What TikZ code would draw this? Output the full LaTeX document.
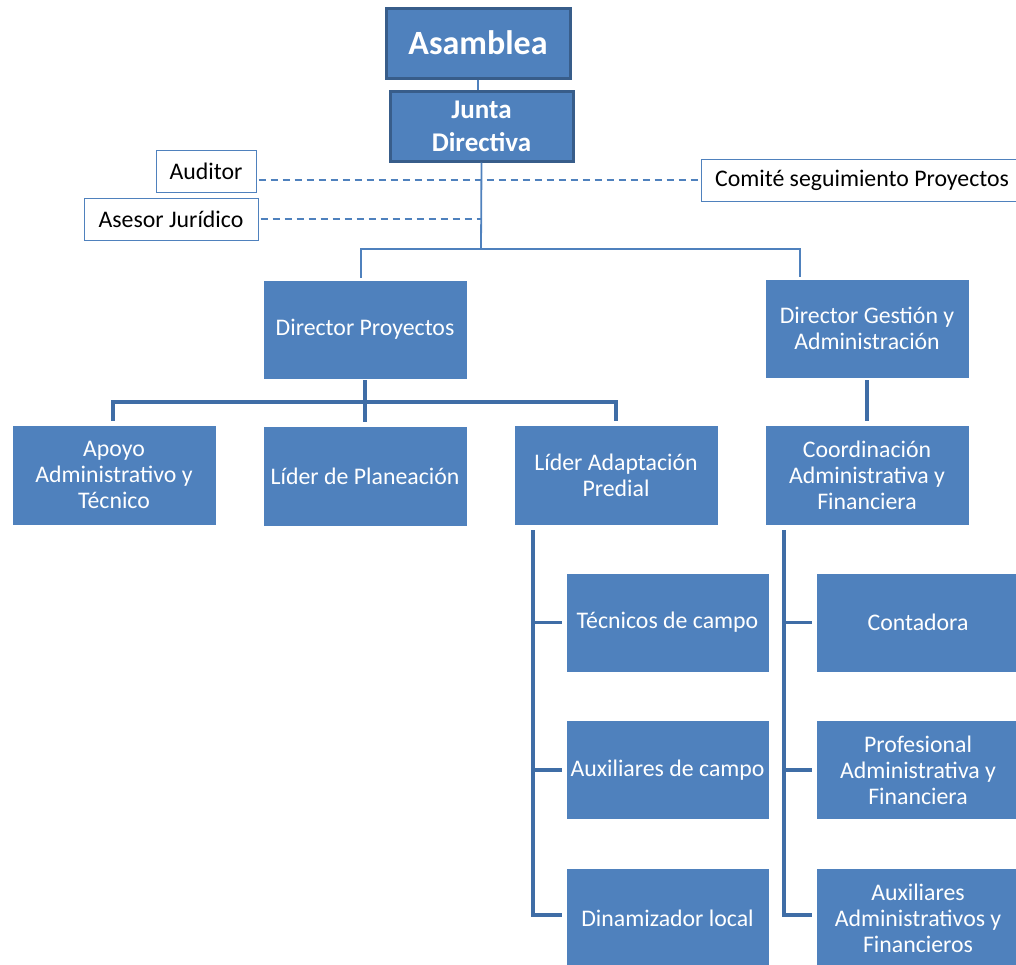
\documentclass[tikz,border=0pt]{standalone}
\usepackage{fontspec}
\setmainfont{Carlito}
\definecolor{boxblue}{HTML}{4F81BD}
\definecolor{edgeblue}{HTML}{385D8A}
\definecolor{lineblue}{HTML}{4F81BD}
\definecolor{darkline}{HTML}{3F6DA6}
\begin{document}
\begin{tikzpicture}[x=1pt,y=-1pt,
  box/.style={fill=boxblue,draw=white,line width=0.8pt,text=white,inner sep=0pt,align=center,
    minimum width=204pt,minimum height=100pt,font=\fontsize{23.8}{26}\selectfont},
  topbox/.style={fill=boxblue,draw=edgeblue,line width=3pt,text=white,inner sep=0pt,align=center,
    font=\bfseries},
  sidebox/.style={fill=white,draw=lineblue,line width=1pt,text=black,inner sep=0pt,align=center,
    minimum height=42pt,font=\fontsize{23.8}{26}\selectfont},
  lvlone/.style={draw=lineblue,line width=1.8pt},
  lvltwo/.style={draw=darkline,line width=3.5pt},
  dashlink/.style={draw=lineblue,line width=1.5pt,dash pattern=on 7pt off 5pt}]
\useasboundingbox (0,0) rectangle (1016,964);
\clip (0,0) rectangle (1016,964);

% top
\node[topbox,minimum width=184pt,minimum height=70pt,font=\bfseries\fontsize{34}{38}\selectfont] (asamblea) at (478,43) {Asamblea};
\node[topbox,minimum width=183pt,minimum height=70pt,font=\bfseries\fontsize{27}{33}\selectfont] (junta) at (481.5,126) {Junta\\Directiva};

% side boxes
\node[sidebox,minimum width=100pt] (auditor) at (206,171) {Auditor};
\node[sidebox,minimum width=174pt] (asesor) at (171,219) {Asesor Jurídico};
\node[sidebox,minimum width=318pt] (comite) at (860,180) {\hspace*{2pt}Comité seguimiento Proyectos\hspace*{-2pt}};

% level 1
\node[box,minimum height=99pt] (dirproy) at (365,329.5) {Director Proyectos};
\node[box,minimum height=99pt] (dirgest) at (867,328.5) {Director Gestión y\\Administración};

% level 2
\node[box] (apoyo) at (114,475) {Apoyo\\Administrativo y\\Técnico};
\node[box] (planea) at (365,476) {Líder de Planeación};
\node[box] (adapt) at (616,475) {Líder Adaptación\\Predial};
\node[box] (coord) at (867,475) {Coordinación\\Administrativa y\\Financiera};

% level 3
\node[box,minimum width=203pt,minimum height=99pt] (tecnicos) at (667.5,622.5) {\raisebox{-2pt}{Técnicos de campo}};
\node[box,minimum width=203pt,minimum height=99pt] (auxcampo) at (667.5,770) {\raisebox{-1pt}{Auxiliares de campo}};
\node[box,minimum width=203pt] (dinam) at (667.5,918) {Dinamizador local};
\node[box,minimum width=204pt,minimum height=99pt] (conta) at (918,622.5) {Contadora};
\node[box,minimum width=204pt,minimum height=99pt] (profes) at (918,770) {Profesional\\Administrativa y\\Financiera};
\node[box,minimum width=204pt] (auxadm) at (918,918) {Auxiliares\\Administrativos y\\Financieros};

% connectors top
\draw[lvlone] (asamblea.south) -- (asamblea.south |- junta.north);
\coordinate (jb) at (481,249);
\coordinate (bl) at (361,249);
\coordinate (br) at (800,249);
\draw[lvlone] (junta.south) -- (jb);
\draw[lvlone] (bl |- dirproy.north) ++(0,-2) -- (bl) -- (br) -- ([yshift=2pt]br |- dirgest.north);
\draw[dashlink] (auditor.east |- comite.west) ++(2,0) -- ([xshift=-3pt]comite.west);
\draw[dashlink] ([xshift=2pt]asesor.east) -- (asesor.east -| jb);

% connectors level 2
\coordinate (pb) at (365,402);
\draw[lvltwo,shorten <=1pt] (dirproy.south) -- (pb);
\draw[lvltwo,shorten <=4pt,shorten >=4pt] ([xshift=-1pt]apoyo.north) |- (pb) -| (adapt.north);
\draw[lvltwo,shorten >=4pt] (pb) -- (planea.north);
\draw[lvltwo,shorten <=2pt,shorten >=4pt] (dirgest.south) -- (coord.north);

% brackets level 3
\coordinate (la) at (533,530);
\coordinate (ca) at (784,530);
\draw[lvltwo,shorten >=4pt] (la) |- ([yshift=3pt]dinam.west);
\draw[lvltwo,shorten >=4pt] (la |- tecnicos.west) -- (tecnicos.west);
\draw[lvltwo,shorten >=4pt] (la |- auxcampo.west) -- (auxcampo.west);
\draw[lvltwo,shorten >=4pt] (ca) |- ([yshift=3pt]auxadm.west);
\draw[lvltwo,shorten >=4pt] (ca |- conta.west) -- (conta.west);
\draw[lvltwo,shorten >=4pt] (ca |- profes.west) -- (profes.west);
\end{tikzpicture}
\end{document}
